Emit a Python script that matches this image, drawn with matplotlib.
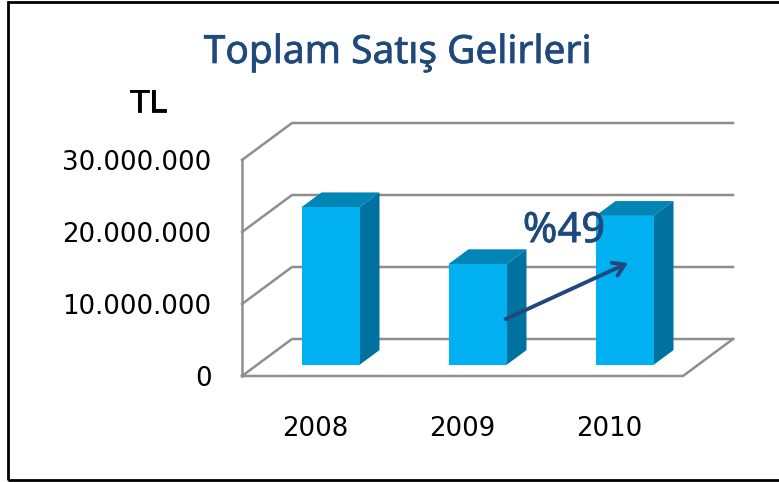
import matplotlib
matplotlib.use('Agg')
import matplotlib.pyplot as plt
import matplotlib.patheffects as pe
from matplotlib.patches import Rectangle

years = ['2008', '2009', '2010']
sales = [21900000, 14000000, 20700000]
y_ticks = [0, 10000000, 20000000, 30000000]
y_labels = ['0', '10.000.000', '20.000.000', '30.000.000']

W, H = 779, 482
FRONT = '#00B0F0'
TOP = '#0085B5'
SIDE = '#0072A0'
GRID = '#8E8E8E'
NAVY = '#1F497D'

# fake 3d, depth of the box in data units
depth_x = 50 / 147
depth_y = 37 / 72 * 1e7
bar_w = 58 / 147

fig = plt.figure(figsize=(W / 100, H / 100), dpi=100)
ax = fig.add_axes([242 / W, (H - 376) / H, 441 / W, 216 / H])
ax.set_xlim(-0.5, 2.5)
ax.set_ylim(0, 30000000)
for s in ax.spines.values():
    s.set_visible(False)
ax.patch.set_alpha(0)

# walls and floor
x0, x1 = ax.get_xlim()
for t in y_ticks:
    ax.plot([x0, x0 + depth_x, x1 + depth_x], [t, t + depth_y, t + depth_y],
            color=GRID, lw=1.8, clip_on=False, zorder=1, solid_joinstyle='miter')
ax.plot([x0, x0], [0, y_ticks[-1]], color=GRID, lw=1.8, clip_on=False, zorder=1)
ax.plot([x0, x1, x1 + depth_x], [0, 0, depth_y], color=GRID, lw=1.8, clip_on=False, zorder=1)

# bars: sit 30% into the depth, take up 40% of it
lift_x = depth_x * 0.3
lift_y = depth_y * 0.3
dx = depth_x * 0.4
dy = depth_y * 0.4
for i, v in enumerate(sales):
    l = i + lift_x - bar_w / 2
    r = l + bar_w
    b = lift_y
    t = lift_y + v
    ax.fill([l, r, r + dx, l + dx], [t, t, t + dy, t + dy], color=TOP, lw=0, zorder=3, clip_on=False)
    ax.fill([r, r + dx, r + dx, r], [b, b + dy, t + dy, t], color=SIDE, lw=0, zorder=3, clip_on=False)
    ax.bar(i + lift_x, v, width=bar_w, bottom=b, color=FRONT, zorder=4, clip_on=False)

ax.set_yticks(y_ticks)
ax.set_yticklabels(y_labels, fontsize=18.7, color='black')
ax.set_xticks(range(3))
ax.set_xticklabels(years, fontsize=18.7, color='black')
ax.tick_params(axis='y', length=0, pad=22)
ax.tick_params(axis='x', length=0, pad=29)

ax.annotate('', xy=(2.126, 15700000), xytext=(1.294, 7900000),
            arrowprops=dict(arrowstyle='->,head_length=0.8,head_width=0.5', color=NAVY, lw=2.8,
                            shrinkA=0, shrinkB=0), zorder=6)
# the original font is a bit heavier than the regular weight here
pct = ax.text(1.69, 18600000, '%49', fontsize=30, family='Noto Sans', color=NAVY,
              ha='center', va='baseline', zorder=7)
pct.set_path_effects([pe.withStroke(linewidth=0.5, foreground=NAVY)])

title = fig.text(397 / W, 1 - 63 / H, 'Toplam Satış Gelirleri', fontsize=28, family='Noto Sans', color=NAVY,
                 ha='center', va='baseline')
title.set_path_effects([pe.withStroke(linewidth=0.5, foreground=NAVY)])
unit = fig.text(148 / W, 1 - 112 / H, 'TL', fontsize=22, color='black', ha='center', va='baseline')
unit.set_path_effects([pe.withStroke(linewidth=0.6, foreground='black')])

# outer frame
fig.add_artist(Rectangle((7.5 / W, 2 / H), 780 / W, 478.5 / H, transform=fig.transFigure,
                         fill=False, ec='black', lw=2))

fig.savefig('out.png', dpi=100)
